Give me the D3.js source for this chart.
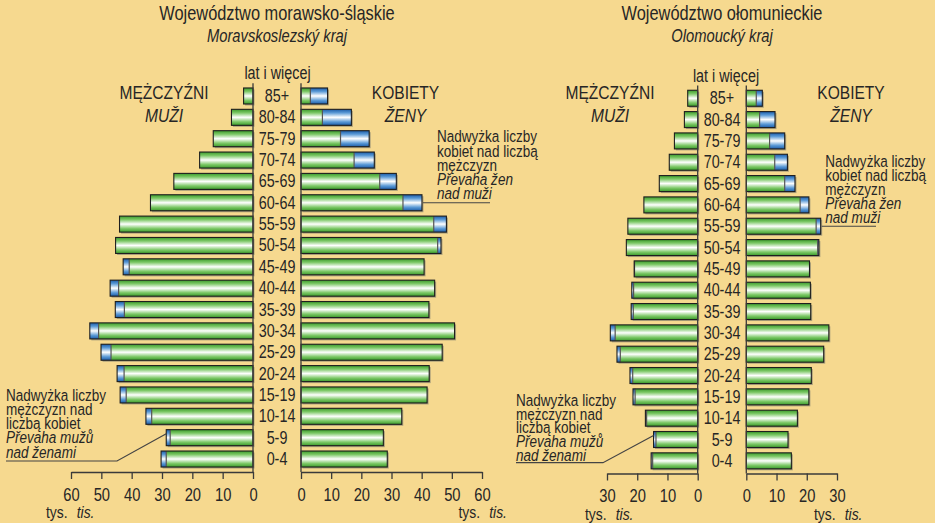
<!DOCTYPE html>
<html><head><meta charset="utf-8">
<script src="https://cdn.jsdelivr.net/npm/d3@7"></script>
<style>
body{margin:0;background:#F6D98F;}
svg{display:block}
text{font-family:"Liberation Sans",Arial,sans-serif;fill:#262626}
</style></head><body>
<svg id="c" width="935" height="523"></svg>
<script>
// ---- data ----
const ages = ["85+","80-84","75-79","70-74","65-69","60-64","55-59","50-54","45-49","40-44","35-39","30-34","25-29","20-24","15-19","10-14","5-9","0-4"];
const msMen   = [3.1, 7.1, 13.1, 17.6, 26.1, 33.8, 44.0, 45.3, 42.8, 47.1, 45.4, 53.8, 50.1, 44.8, 43.8, 35.3, 28.6, 30.3];
const msWomen = [8.8, 16.7, 22.6, 24.3, 31.6, 40.1, 48.2, 46.4, 40.8, 44.3, 42.4, 50.9, 46.8, 42.5, 41.8, 33.4, 27.3, 28.6];
const olMen   = [3.3, 4.4, 7.7, 9.4, 12.7, 17.8, 23.1, 23.6, 21.0, 21.8, 22.0, 28.9, 26.7, 22.4, 21.4, 17.3, 14.6, 15.4];
const olWomen = [5.3, 9.5, 12.7, 13.6, 16.1, 20.7, 24.6, 24.0, 20.9, 21.2, 21.3, 27.3, 25.6, 21.5, 20.7, 16.9, 13.8, 14.9];
const msTicks = [0,10,20,30,40,50,60];
const olTicks = [0,10,20,30];
const titlesPL = ["Województwo morawsko-śląskie","Województwo ołomunieckie"];
const titlesCZ = ["Moravskoslezský kraj","Olomoucký kraj"];
const menLabel = ["MĘŻCZYŹNI","MUŽI"];
const womenLabel = ["KOBIETY","ŽENY"];
const ageHeader = "lat i więcej";
const unitLabel = ["tys.","tis."];
const noteWomen = [["Nadwyżka liczby",false],["kobiet nad liczbą",false],["mężczyzn",false],["Převaha žen",true],["nad muži",true]];
const noteMen = [["Nadwyżka liczby",false],["mężczyzn nad",false],["liczbą kobiet",false],["Převaha mužů",true],["nad ženami",true]];

const SX = 0.82; // condensed look
const svg = d3.select("#c");
svg.append("rect").attr("width",935).attr("height",523).attr("fill","#F6D98F");

function T(parent,x,y,s,size,opt={}){
  return parent.append("text").attr("transform",`translate(${x},${y}) scale(${SX},1)`)
    .attr("text-anchor",opt.anchor||"start").attr("font-size",size)
    .attr("font-style",opt.italic?"italic":null).text(s);
}

const defs = svg.append("defs");
function grad(id, dark, mid){
  const g = defs.append("linearGradient").attr("id",id).attr("x1",0).attr("y1",0).attr("x2",0).attr("y2",1);
  [[0,dark],[0.22,mid],[0.5,"#ffffff"],[0.78,mid],[1,dark]].forEach(([o,c])=>g.append("stop").attr("offset",o).attr("stop-color",c));
}
grad("gGreen","#3a9a2a","#7cc866");
grad("gBlue","#1b5ca8","#5b9ad6");

function panel(cfg){
  const g = svg.append("g");
  const xm = d3.scaleLinear().domain([0,cfg.max]).range([cfg.x0m,cfg.x1m]);
  const xw = d3.scaleLinear().domain([0,cfg.max]).range([cfg.x0w,cfg.x1w]);
  const y = d3.scaleBand().domain(ages).range([cfg.yTop,cfg.yBot]).paddingInner(0.25).paddingOuter(0.125);
  const bh = y.bandwidth();
  const rows = ages.map((a,i)=>({age:a,m:cfg.men[i],w:cfg.women[i]}));

  rows.forEach(d=>{
    g.append("rect").attr("x",xm(d.m)+1.5).attr("y",y(d.age)+1.5).attr("width",xm(0)-xm(d.m)).attr("height",bh).attr("fill","#8f8a74").attr("opacity",0.7);
    g.append("rect").attr("x",xw(0)+1.5).attr("y",y(d.age)+1.5).attr("width",xw(d.w)-xw(0)).attr("height",bh).attr("fill","#8f8a74").attr("opacity",0.7);
  });
  rows.forEach(d=>{
    const mn = Math.min(d.m,d.w);
    const yy = y(d.age);
    g.append("rect").attr("x",xm(mn)).attr("y",yy).attr("width",xm(0)-xm(mn)).attr("height",bh).attr("fill","url(#gGreen)");
    if(d.m>mn){
      g.append("rect").attr("x",xm(d.m)).attr("y",yy).attr("width",xm(mn)-xm(d.m)).attr("height",bh).attr("fill","url(#gBlue)");
      g.append("line").attr("x1",xm(mn)).attr("x2",xm(mn)).attr("y1",yy).attr("y2",yy+bh).attr("stroke","#555").attr("stroke-width",1.2);
    }
    g.append("rect").attr("x",xm(d.m)).attr("y",yy).attr("width",xm(0)-xm(d.m)).attr("height",bh).attr("fill","none").attr("stroke","#1e1e1e").attr("stroke-width",1.1);
    g.append("rect").attr("x",xw(0)).attr("y",yy).attr("width",xw(mn)-xw(0)).attr("height",bh).attr("fill","url(#gGreen)");
    if(d.w>mn){
      g.append("rect").attr("x",xw(mn)).attr("y",yy).attr("width",xw(d.w)-xw(mn)).attr("height",bh).attr("fill","url(#gBlue)");
      g.append("line").attr("x1",xw(mn)).attr("x2",xw(mn)).attr("y1",yy).attr("y2",yy+bh).attr("stroke","#555").attr("stroke-width",1.2);
    }
    g.append("rect").attr("x",xw(0)).attr("y",yy).attr("width",xw(d.w)-xw(0)).attr("height",bh).attr("fill","none").attr("stroke","#1e1e1e").attr("stroke-width",1.1);
    T(g,cfg.cx,yy+bh/2+6,d.age,17.5,{anchor:"middle"});
  });

  const axM = g.append("g").attr("transform",`translate(0,${cfg.axisY})`)
    .call(d3.axisBottom(xm).tickValues(cfg.ticks).tickSize(7).tickSizeOuter(0).tickPadding(9).tickFormat(d3.format("d")));
  const axW = g.append("g").attr("transform",`translate(0,${cfg.axisY})`)
    .call(d3.axisBottom(xw).tickValues(cfg.ticks).tickSize(7).tickSizeOuter(0).tickPadding(9).tickFormat(d3.format("d")));
  [axM,axW].forEach(a=>{
    a.select(".domain").attr("stroke","#3a3a3a").attr("stroke-width",1.3);
    a.selectAll(".tick line").attr("stroke","#3a3a3a").attr("stroke-width",1.3);
    a.selectAll(".tick text").attr("font-size",18).attr("fill","#262626").attr("font-family",null).attr("transform",`scale(${SX},1)`);
  });
  [xm(0),xw(0)].forEach(x=>g.append("line").attr("x1",x).attr("x2",x).attr("y1",cfg.yTop-2).attr("y2",cfg.axisY).attr("stroke","#3a3a3a").attr("stroke-width",1.3));

  T(g,cfg.cx,20,cfg.titlePL,20,{anchor:"middle"});
  T(g,cfg.cx,42,cfg.titleCZ,18,{anchor:"middle",italic:true});
  T(g,cfg.hdrX,cfg.yTop-6,ageHeader,17.5,{anchor:"middle"});
  T(g,cfg.menX,99,menLabel[0],19,{anchor:"middle"});
  T(g,cfg.menX,122,menLabel[1],19,{anchor:"middle",italic:true});
  T(g,cfg.womenX,99,womenLabel[0],19,{anchor:"middle"});
  T(g,cfg.womenX,122,womenLabel[1],19,{anchor:"middle",italic:true});
  const uy = cfg.axisY+46;
  [cfg.unitM,cfg.unitW].forEach(ux=>{
    const t = T(g,ux,uy,null,17);
    t.append("tspan").text(unitLabel[0]);
    t.append("tspan").attr("dx",11).attr("font-style","italic").text(unitLabel[1]);
  });

  const wi = ages.indexOf(cfg.noteWAge);
  const wy = y(ages[wi])+bh/2;
  noteWomen.forEach(([s,it],k)=>T(g,cfg.noteWX,cfg.noteWY+k*cfg.lead,s,16.5,{italic:it}));
  g.append("line").attr("x1",xw(cfg.women[wi])+1).attr("x2",cfg.noteWEnd).attr("y1",wy).attr("y2",wy).attr("stroke","#444").attr("stroke-width",1.2);
  const mi = ages.indexOf("5-9");
  const my = y("5-9")+bh/2-4;
  noteMen.forEach(([s,it],k)=>T(g,cfg.noteMX,cfg.noteMY+k*cfg.lead,s,16.5,{italic:it}));
  g.append("polyline").attr("points",`${cfg.noteMX},${cfg.noteMLineY} ${cfg.noteMBend},${cfg.noteMLineY} ${xm(cfg.men[mi])},${my}`)
    .attr("fill","none").attr("stroke","#444").attr("stroke-width",1.2);
}

panel({men:msMen,women:msWomen,ticks:msTicks,max:60,x0m:253,x1m:71,x0w:301,x1w:482,
  yTop:85.3,yBot:469.7,axisY:472,cx:277,hdrX:277.5,menX:164,womenX:405.5,
  titlePL:titlesPL[0],titleCZ:titlesCZ[0],unitM:46,unitW:458.5,
  noteWAge:"60-64",noteWX:437,noteWY:142.3,noteWEnd:490,lead:14.2,
  noteMX:6,noteMY:400.7,noteMLineY:461,noteMBend:117});
panel({men:olMen,women:olWomen,ticks:olTicks,max:30,x0m:697.7,x1m:607,x0w:746.3,x1w:837,
  yTop:87.6,yBot:471.5,axisY:473.5,cx:722,hdrX:726,menX:610,womenX:851,
  titlePL:titlesPL[1],titleCZ:titlesCZ[1],unitM:585,unitW:814,
  noteWAge:"55-59",noteWX:825.3,noteWY:167.3,noteWEnd:876,lead:13.85,
  noteMX:516,noteMY:405.7,noteMLineY:462.7,noteMBend:603});
</script></body></html>
